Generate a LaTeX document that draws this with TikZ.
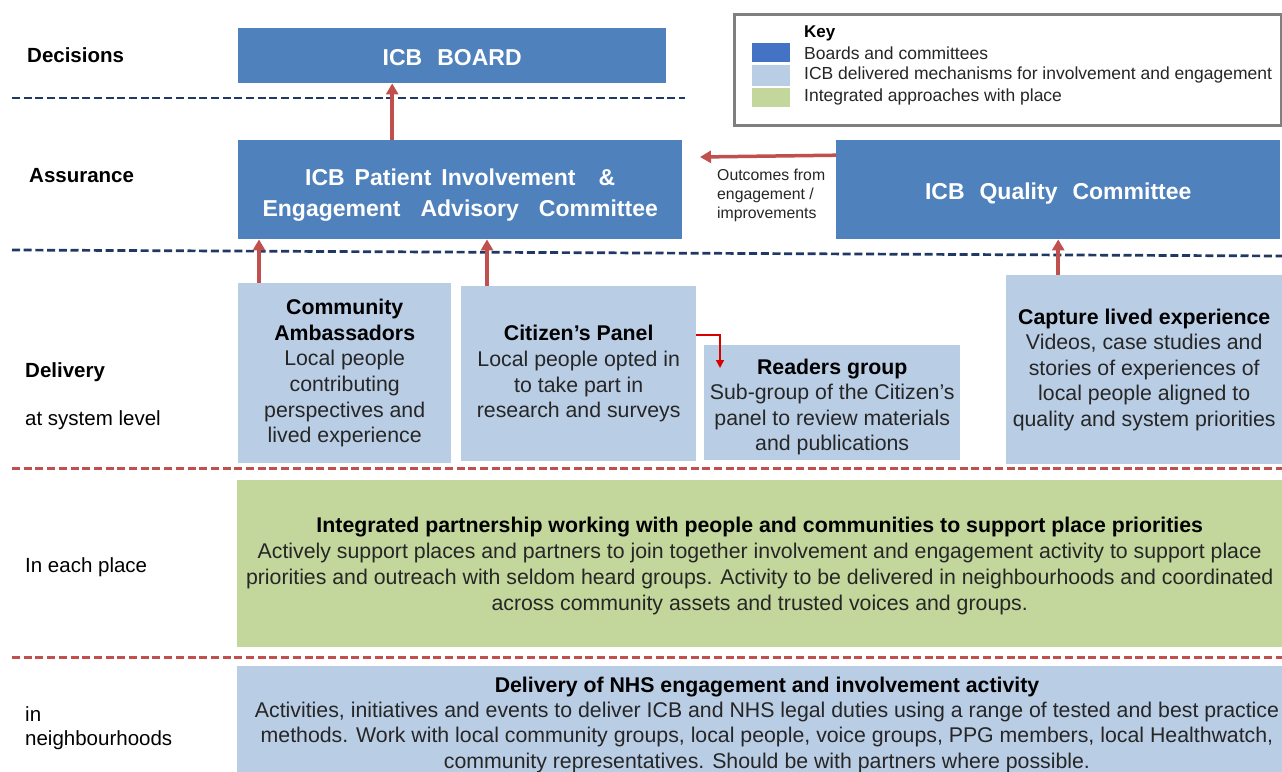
\documentclass[tikz,border=0pt]{standalone}
\usepackage{fontspec}
\setmainfont{Liberation Sans}
\usetikzlibrary{arrows.meta}
\definecolor{dkblue}{HTML}{4F81BD}
\definecolor{keyblue}{HTML}{4472C4}
\definecolor{ltblue}{HTML}{B9CDE5}
\definecolor{ltgreen}{HTML}{C3D69B}
\definecolor{arrred}{HTML}{C0504D}
\definecolor{navy}{HTML}{1F3864}
\definecolor{bodytxt}{HTML}{262626}
\definecolor{keygray}{HTML}{7F7F7F}
\newcommand{\hdline}[1]{\textcolor{black}{\textbf{#1}}}
\newcommand{\gap}[1]{\hspace{#1pt}}
\newcommand{\lift}[1]{\rule{0pt}{#1pt}}
\begin{document}
\begin{tikzpicture}[x=1pt,y=-1pt,
  board/.style={fill=dkblue, draw=none, text=white, font=\bfseries\fontsize{23}{31}\selectfont, align=center, inner sep=0pt, anchor=north west},
  mech/.style={fill=ltblue, draw=none, text=bodytxt, font=\fontsize{21.3}{25.6}\selectfont, align=center, inner sep=0pt, anchor=north west},
  place/.style={fill=ltgreen, draw=none, text=bodytxt, font=\fontsize{21.3}{26}\selectfont, align=center, inner sep=0pt, anchor=north west},
  lbl/.style={anchor=west, inner sep=0pt, text=black, font=\fontsize{20.5}{24}\selectfont, align=left},
  lblb/.style={lbl, font=\bfseries\fontsize{20.5}{24}\selectfont},
  upArrow/.style={draw=arrred, line width=3.5pt, -{Triangle[length=11pt,width=12pt]}},
  smallArrow/.style={draw=red!85!black, line width=1.5pt, -{Triangle[length=8pt,width=8pt]}},
  navyDash/.style={draw=navy, line width=2.7pt, dash pattern=on 8pt off 3.7pt},
  redDash/.style={draw=arrred, line width=3pt, dash pattern=on 8pt off 3.7pt},
  swatch/.style={draw=none, inner sep=0pt, minimum width=38pt, minimum height=19pt, anchor=north west},
  keytxt/.style={anchor=west, inner sep=0pt, font=\fontsize{17.5}{20}\selectfont, text=bodytxt}
]
\useasboundingbox (0,0) rectangle (1282,771);
\fill[white] (0,0) rectangle (1282,771);

% separators
\draw[navyDash] (12,98) -- (685,98);
\draw[navyDash] (12,250) -- (1282,256);
\draw[redDash] (12,468) -- (1282,468);
\draw[redDash] (12,657) -- (1282,657);

% row labels
\node[lblb] (lDec) at (27,55) {Decisions};
\node[lblb] (lAss) at (29,176) {Assurance};
\node[lblb] (lDel) at (25,372) {Delivery};
\node[lbl] (lSys) at (25,420) {at system level};
\node[lbl] (lPlace) at (25,567) {In each place};
\node[lbl] (lIn) at (25,714) {in};
\node[lbl] (lNb) at (25,740) {neighbourhoods};

% boards and committees
\node[board, minimum width=428pt, minimum height=55pt] (board) at (238,28) {\lift{20}ICB\gap{15}BOARD};
\node[board, minimum width=444pt, minimum height=99pt] (pieac) at (238,140) {\lift{28}ICB\gap{10}Patient\gap{10}Involvement\gap{23}\&\\Engagement\gap{20}Advisory\gap{20}Committee};
\node[board, minimum width=444pt, minimum height=99pt] (qc) at (836,140) {\lift{25}ICB\gap{15}Quality\gap{15}Committee};

% delivery mechanisms
\node[mech, minimum width=213pt, minimum height=180pt] (ca) at (238,283) {\hdline{Community}\\\hdline{Ambassadors}\\Local people\\contributing\\perspectives and\\lived experience};
\node[mech, minimum width=235pt, minimum height=175pt] (cp) at (461,286) {\hdline{Citizen’s Panel}\\Local people opted in\\to take part in\\research and surveys};
\node[mech, minimum width=256pt, minimum height=115pt] (rg) at (704,345) {\lift{24}\hdline{Readers group}\\Sub-group of the Citizen’s\\panel to review materials\\and publications};
\node[mech, minimum width=276pt, minimum height=189pt] (cap) at (1006,275) {\hdline{Capture lived experience}\\Videos, case studies and\\stories of experiences of\\local people aligned to\\quality and system priorities};

% place
\node[place, minimum width=1045pt, minimum height=167pt] (green) at (237,480) {\lift{21}\hdline{Integrated partnership working with people and communities\ to support place priorities}\\Actively\ support places and partners to join together involvement and engagement activity to support place\\priorities and outreach with seldom heard groups. Activity to be delivered in neighbourhoods and coordinated\\across community assets and trusted voices and groups.};

% neighbourhoods
\node[fill=ltblue, draw=none, inner sep=0pt, anchor=north west, minimum width=1045pt, minimum height=110pt] (nhs) at (237,666) {};
\node[anchor=north, inner sep=0pt, align=center, text=bodytxt, font=\fontsize{21.3}{25.4}\selectfont] (nhsTxt) at (767,676.5) {\hdline{Delivery of NHS engagement and involvement activity}\\Activities, initiatives and events to deliver\ ICB and NHS legal duties using a range of tested and best practice\\methods. Work with local community groups, local people, voice groups, PPG members, local Healthwatch,\\community representatives. Should be with partners where possible.};

% key
\node[draw=keygray, line width=3pt, fill=white, inner sep=0pt, anchor=north west, minimum width=547pt, minimum height=111pt] (key) at (733,13) {};
\node[anchor=west, inner sep=0pt, font=\bfseries\fontsize{17}{20}\selectfont] (keyT) at (804,33.5) {Key};
\node[swatch, fill=keyblue] (s1) at (752,43) {};
\node[swatch, fill=ltblue, minimum height=21pt] (s2) at (752,65) {};
\node[swatch, fill=ltgreen] (s3) at (752,88) {};
\node[keytxt] (k1) at (804,53.5) {Boards and committees};
\node[keytxt] (k2) at (804,74.5) {ICB delivered mechanisms for involvement and engagement};
\node[keytxt] (k3) at (804,96.5) {Integrated approaches with place};

% outcomes label
\node[anchor=north west, inner sep=0pt, align=left, text=bodytxt, font=\fontsize{15.8}{19}\selectfont] (outc) at (717,169) {Outcomes from\\engagement /\\improvements};

% connectors
\coordinate (aBoard) at ([xshift=-68pt]pieac.north);
\draw[upArrow] (aBoard) -- (aBoard |- board.south);
\coordinate (aCa) at ([xshift=21pt]ca.north west);
\draw[upArrow] (aCa) -- (aCa |- pieac.south);
\coordinate (aCp) at ([xshift=26pt]cp.north west);
\draw[upArrow] (aCp) -- (aCp |- pieac.south);
\coordinate (aCap) at (qc.south |- cap.north);
\draw[upArrow] (aCap) -- (qc.south);
\coordinate (oEnd) at (700,157);
\draw[upArrow] ([yshift=34.5pt]qc.west) -- (oEnd);
\coordinate (rTip) at (720,368);
\draw[smallArrow] ([yshift=38.5pt]cp.east) -| (rTip);
\end{tikzpicture}
\end{document}
